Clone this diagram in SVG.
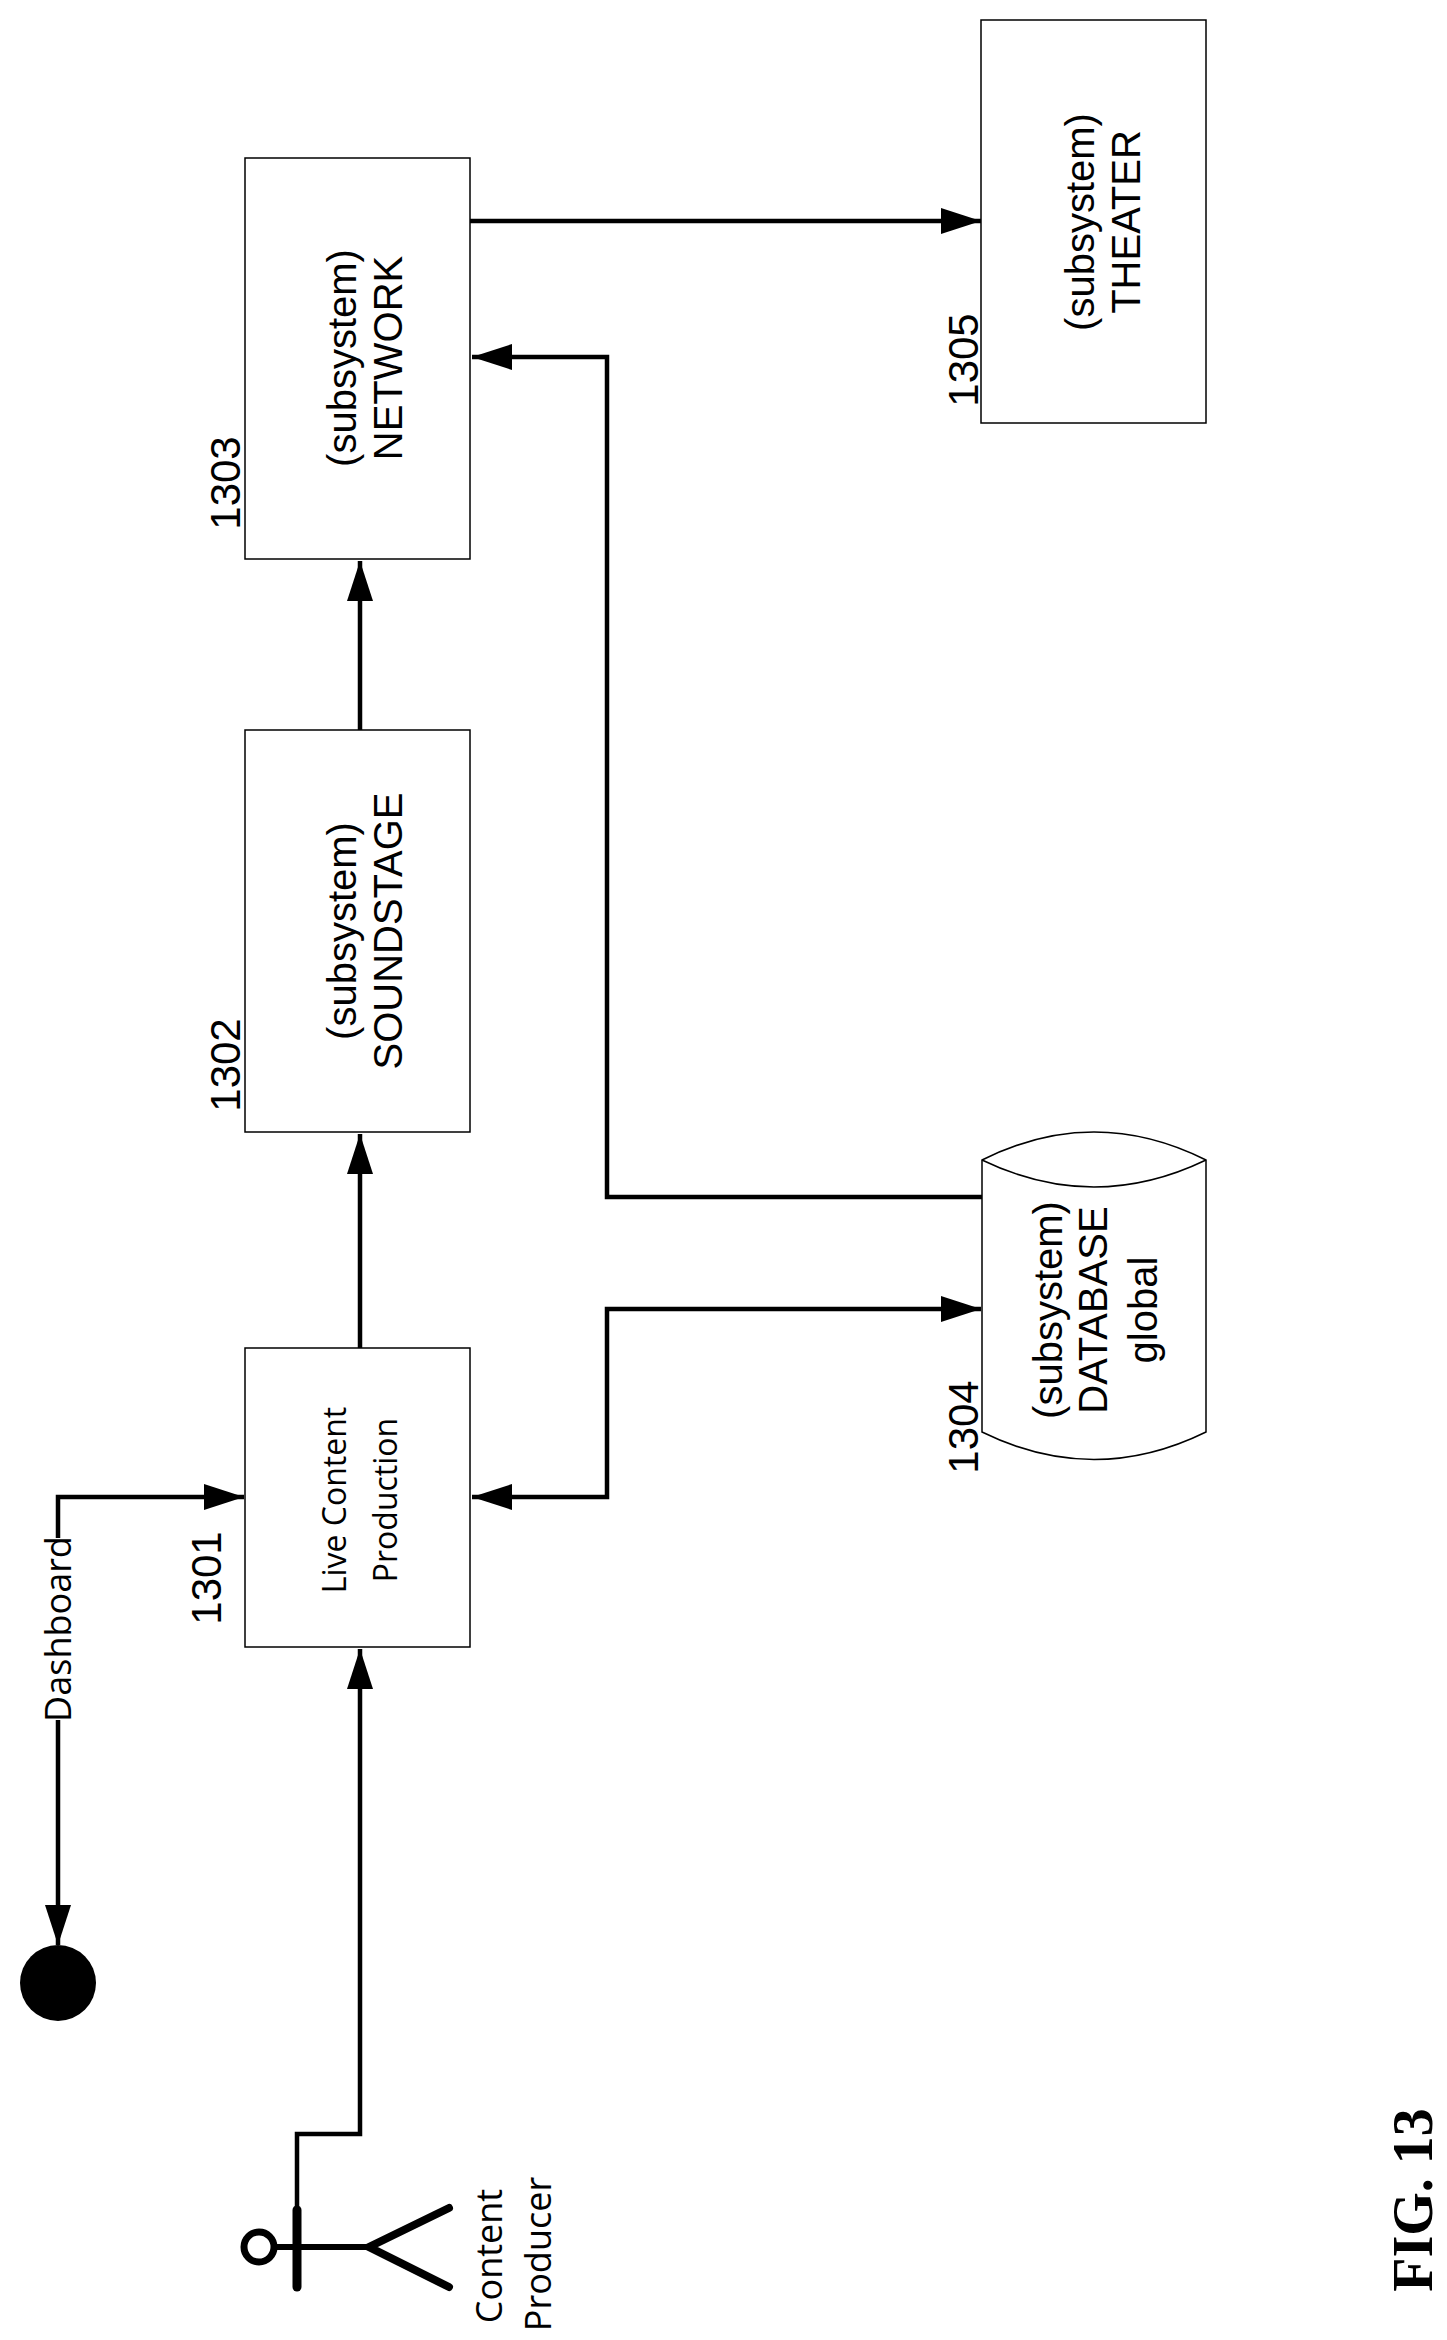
<svg xmlns="http://www.w3.org/2000/svg" width="1447" height="2340" viewBox="0 0 1447 2340">
<style>
.box{fill:#fff;stroke:#000;stroke-width:1.5}
.ln{fill:none;stroke:#000;stroke-width:4.5}
.t{font-family:"Liberation Sans",Arial,sans-serif;font-size:40px;fill:#000;text-anchor:middle}
.n{font-family:"Liberation Sans",Arial,sans-serif;font-size:42px;fill:#000;text-anchor:middle}
.c{font-family:"Open Sans",sans-serif;font-size:32px;fill:#000;text-anchor:middle}
</style>
<defs>
<marker id="ah" markerUnits="userSpaceOnUse" markerWidth="42" markerHeight="26" refX="40" refY="13" orient="auto-start-reverse">
<path d="M0,0 L40,13 L0,26 Z" fill="#000"/>
</marker>
</defs>
<rect width="1447" height="2340" fill="#fff"/>
<g id="connectors">
<path class="ln" d="M297,2208 V2134 H360 V1649" marker-end="url(#ah)"/>
<path class="ln" d="M360,1348 V1134" marker-end="url(#ah)"/>
<path class="ln" d="M360,730 V561" marker-end="url(#ah)"/>
<path class="ln" d="M470,221 H981" marker-end="url(#ah)"/>
<path class="ln" d="M982,1197 H607 V357 H472" marker-end="url(#ah)"/>
<path class="ln" d="M472,1497 H607 V1309 H981" marker-start="url(#ah)" marker-end="url(#ah)"/>
<path class="ln" d="M244,1497 H58 V1945" marker-start="url(#ah)" marker-end="url(#ah)"/>
<rect x="34" y="1538" width="48" height="182" fill="#fff"/>
<text class="c" style="font-size:36px" transform="translate(71,1629) rotate(-90)">Dashboard</text>
</g>
<g id="end">
<circle cx="58" cy="1983" r="38" fill="#000"/>
</g>
<g id="n1301">
<rect class="box" x="245" y="1348" width="225" height="299"/>
<text class="c" transform="translate(346,1500) rotate(-90)">Live Content</text>
<text class="c" transform="translate(397,1500) rotate(-90)">Production</text>
<text class="n" transform="translate(221,1578) rotate(-90)">1301</text>
</g>
<g id="n1302">
<rect class="box" x="245" y="730" width="225" height="402"/>
<text class="t" transform="translate(356,931) rotate(-90)">(subsystem)</text>
<text class="t" transform="translate(402,931) rotate(-90)">SOUNDSTAGE</text>
<text class="n" transform="translate(240,1065) rotate(-90)">1302</text>
</g>
<g id="n1303">
<rect class="box" x="245" y="158" width="225" height="401"/>
<text class="t" transform="translate(356,358) rotate(-90)">(subsystem)</text>
<text class="t" transform="translate(402,358) rotate(-90)">NETWORK</text>
<text class="n" transform="translate(240,483) rotate(-90)">1303</text>
</g>
<g id="n1305">
<rect class="box" x="981" y="20" width="225" height="403"/>
<text class="t" transform="translate(1094,222) rotate(-90)">(subsystem)</text>
<text class="t" transform="translate(1140,222) rotate(-90)">THEATER</text>
<text class="n" transform="translate(978,360) rotate(-90)">1305</text>
</g>
<g id="n1304">
<path class="box" d="M982,1160 Q1094,1104 1206,1160 V1432 Q1094,1487 982,1432 Z"/>
<path class="box" fill="none" d="M982,1160 Q1094,1214 1206,1160"/>
<text class="t" transform="translate(1062,1310) rotate(-90)">(subsystem)</text>
<text class="t" transform="translate(1107,1310) rotate(-90)">DATABASE</text>
<text class="t" transform="translate(1157,1310) rotate(-90)">global</text>
<text class="n" transform="translate(978,1427) rotate(-90)">1304</text>
</g>
<g id="actor" stroke="#000" fill="none" stroke-linecap="round">
<circle cx="259" cy="2247" r="15" stroke-width="7" fill="#fff"/>
<line x1="274" y1="2247" x2="369" y2="2247" stroke-width="6"/>
<line x1="297" y1="2210" x2="297" y2="2287" stroke-width="9"/>
<polyline points="449,2208 369,2247 449,2287" stroke-width="8"/>
<text class="c" stroke="none" fill="#000" style="font-size:36px" transform="translate(502,2256) rotate(-90)">Content</text>
<text class="c" stroke="none" fill="#000" style="font-size:36px" transform="translate(551,2254) rotate(-90)">Producer</text>
</g>
<text transform="translate(1432,2200) rotate(-90)" style="font-family:'Liberation Serif',serif;font-weight:bold;font-size:56px;text-anchor:middle">FIG. 13</text>
</svg>
